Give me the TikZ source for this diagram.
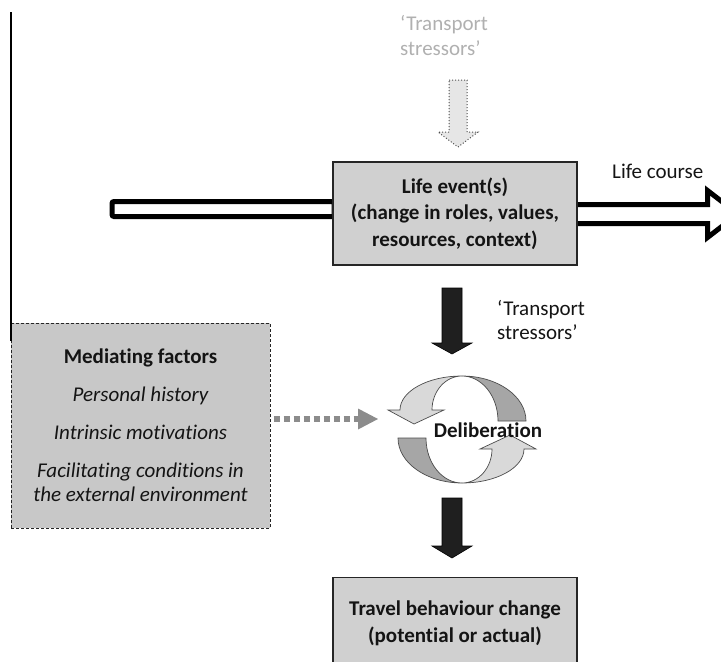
\documentclass[tikz,border=0pt]{standalone}
\usepackage{fontspec}
\setmainfont{Carlito}[Ligatures=NoCommon]
\definecolor{boxgray}{HTML}{D0D0D0}
\definecolor{medgray}{HTML}{C8C8C8}
\definecolor{darkcres}{HTML}{A6A6A6}
\definecolor{lightcres}{HTML}{D9D9D9}
\definecolor{textgray}{HTML}{B0B0B0}
\definecolor{dashgray}{HTML}{8C8C8C}
\definecolor{dotfill}{HTML}{E6E6E6}
\begin{document}
\begin{tikzpicture}[x=1pt,y=-1pt,
  txt/.style={font=\fontsize{21}{26}\selectfont, text=black!92, inner sep=0pt},
  boxnode/.style={draw=black!85, line width=1.2pt, fill=boxgray, align=center,
     font=\fontsize{21}{26.5}\selectfont\bfseries, text=black!92, inner sep=0pt},
  blockarrow/.style={fill=black!88, draw=black, line width=0.6pt},
  crescdark/.style={fill=darkcres, draw=black!70, line width=0.7pt},
  cresclight/.style={fill=lightcres, draw=black!70, line width=0.7pt},
]
\useasboundingbox (0,0) rectangle (721,662);
\clip (0,0) rectangle (721,662);

% life course bars
\draw[line width=5pt, fill=white, rounded corners=2pt] (112,201.5) rectangle (334,216.5);
\draw[line width=5pt, fill=white, miter limit=10] (570,204.5) -- (707.5,204.5) -- (707.5,190.5)
   -- (738,214) -- (707.5,237.5) -- (707.5,223.5) -- (570,223.5) -- cycle;

% life event box
\node[boxnode, minimum width=244pt, minimum height=103pt] (lifeevent) at (455,213.5)
  {Life event(s)\\(change in roles, values,\\resources, context)};
\node[txt, anchor=base west] (lifecourse) at (612,178) {Life course};

% top transport stressors (grey)
\node[txt, anchor=base west, text=textgray] (ts1a) at (400,30) {‘Transport};
\node[txt, anchor=base west, text=textgray] (ts1b) at (400,55) {stressors’};
\draw[fill=dotfill, draw=black!70, line width=1pt, dotted]
  (449,80) -- (467,80) -- (467,132) -- (478,132) -- (458,147) -- (438,132) -- (449,132) -- cycle;

% black arrow to deliberation
\draw[blockarrow] (442,288) -- (462,288) -- (462,343) -- (472,343) -- (452,354) -- (432,343) -- (442,343) -- cycle;
\node[txt, anchor=base west] (ts2a) at (497,315) {‘Transport};
\node[txt, anchor=base west] (ts2b) at (497,339) {stressors’};

% mediating factors box
\node[draw=black!85, line width=1pt, dash pattern=on 3pt off 2pt, fill=medgray,
      minimum width=259pt, minimum height=205pt, inner sep=0pt] (mediating) at (140.5,425.5) {};
\node[txt, anchor=base, font=\fontsize{21}{24}\selectfont\bfseries] (m0) at (140.5,363) {Mediating factors};
\node[txt, anchor=base, font=\fontsize{21}{24}\selectfont\itshape] (m1) at (140.5,401) {Personal history};
\node[txt, anchor=base, font=\fontsize{21}{24}\selectfont\itshape] (m2) at (140.5,439) {Intrinsic motivations};
\node[txt, anchor=base, font=\fontsize{21}{24}\selectfont\itshape] (m3) at (140.5,477) {Facilitating conditions in};
\node[txt, anchor=base, font=\fontsize{21}{24}\selectfont\itshape] (m4) at (140.5,501) {the external environment};
\draw[line width=1.3pt] (11,12) -- (11,341);

% dashed arrow
\coordinate (da) at (mediating.east |- 0,419);
\coordinate (db) at (358,419);
\draw[dashgray, line width=6.5pt, dash pattern=on 6pt off 4pt] ([xshift=3pt]da) -- (db);
\fill[dashgray] (358,408.5) -- (378,419) -- (358,429.5) -- cycle;

% cycle
\draw[crescdark] (526,421) arc[start angle=0, end angle=-90, x radius=64, y radius=45]
   arc[start angle=-90, end angle=0, x radius=36, y radius=45] -- cycle;
\draw[cresclight] (462,376) arc[start angle=-90, end angle=-180, x radius=62, y radius=34]
   -- (388,410) -- (414,424) -- (444,410) -- (432,410)
   arc[start angle=180, end angle=270, x radius=30, y radius=34] -- cycle;
\draw[crescdark] (398,438) arc[start angle=180, end angle=90, x radius=64, y radius=45]
   arc[start angle=90, end angle=180, x radius=36, y radius=45] -- cycle;
\draw[cresclight] (462,483) arc[start angle=90, end angle=0, x radius=62, y radius=34]
   -- (536,449) -- (510,435) -- (480,449) -- (492,449)
   arc[start angle=0, end angle=90, x radius=30, y radius=34] -- cycle;
\node[txt, font=\fontsize{21}{24}\selectfont\bfseries] (delib) at (488,430) {Deliberation};

% black arrow to travel
\draw[blockarrow] (442,498) -- (462,498) -- (462,546) -- (472,546) -- (452,558) -- (432,546) -- (442,546) -- cycle;

% travel behaviour box
\node[boxnode, minimum width=244pt, minimum height=100pt, anchor=north] (travel) at (455,577) {};
\node[txt, align=center, font=\fontsize{21}{27}\selectfont\bfseries] (traveltxt) at (455,623.5)
  {Travel behaviour change\\(potential or actual)};
\end{tikzpicture}
\end{document}
